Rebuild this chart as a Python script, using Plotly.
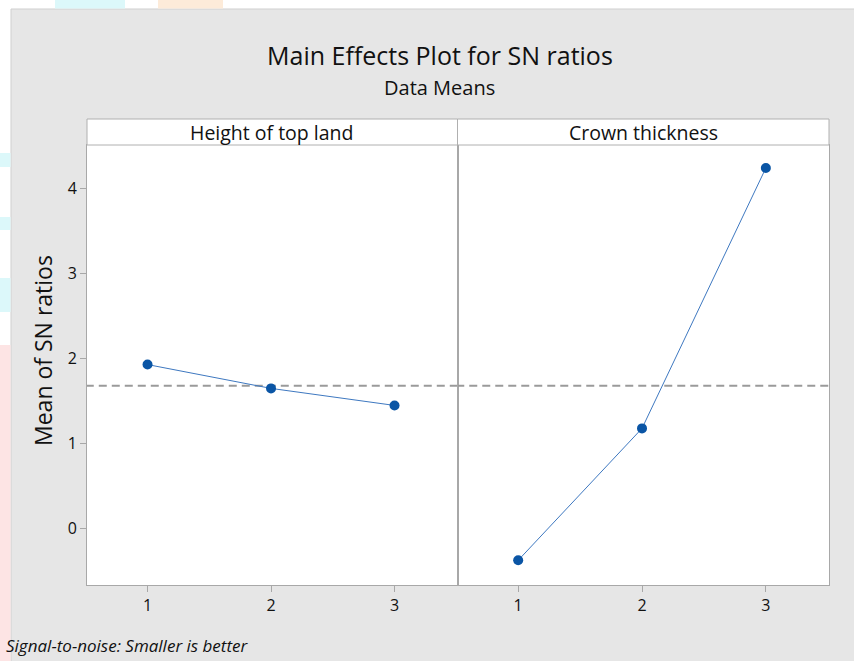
import plotly.graph_objects as go
from plotly.subplots import make_subplots

levels = [1, 2, 3]
height_top_land = [1.93, 1.65, 1.45]
crown_thickness = [-0.37, 1.18, 4.24]
overall_mean = 1.68
panel_titles = ["Height of top land", "Crown thickness"]
y_ticks = [0, 1, 2, 3, 4]

W, H = 854, 661
L, R, T, B = 87, 25, 145, 76
pw = W - L - R
ph = H - T - B
split = (457.5 - L) / pw


def px_x(x):
    return (x - L) / pw


def px_y(y):
    return (H - B - y) / ph


fig = make_subplots(rows=1, cols=2, shared_yaxes=True, horizontal_spacing=0)
fig.update_layout(xaxis=dict(domain=[0, split]), xaxis2=dict(domain=[split, 1]))

line_col = "#3E78C0"
mk_col = "#0A55A5"
for i, ys in enumerate([height_top_land, crown_thickness]):
    fig.add_trace(go.Scatter(x=[0.5, 3.52], y=[overall_mean, overall_mean], mode="lines",
                             line=dict(color="#9a9a9a", width=2, dash="8px,5px"),
                             showlegend=False, hoverinfo="skip"), row=1, col=i + 1)
    fig.add_trace(go.Scatter(x=levels, y=ys, mode="lines+markers",
                             line=dict(color=line_col, width=1),
                             marker=dict(color=mk_col, size=10),
                             showlegend=False, hoverinfo="skip"), row=1, col=i + 1)

axis_line = "#a8a8a8"
font_fam = "Open Sans, Noto Sans, sans-serif"
for k in [1, 2]:
    fig.update_xaxes(row=1, col=k, range=[0.51, 3.51], tickvals=levels,
                     ticktext=[str(v) for v in levels], showgrid=False, zeroline=False,
                     showline=True, linecolor=axis_line, linewidth=1, mirror=True,
                     ticks="outside", ticklen=6, tickcolor=axis_line,
                     tickfont=dict(family=font_fam, size=16, color="#111111"))
fig.update_yaxes(row=1, col=1, range=[-0.66, 4.51], tickvals=y_ticks, showgrid=False,
                 zeroline=False, showline=True, linecolor=axis_line, linewidth=1, mirror=True,
                 ticks="outside", ticklen=6, tickcolor=axis_line,
                 tickfont=dict(family=font_fam, size=16, color="#111111"))
fig.update_yaxes(row=1, col=2, range=[-0.66, 4.51], showgrid=False, zeroline=False,
                 showline=True, linecolor=axis_line, linewidth=1, mirror=True,
                 showticklabels=False, ticks="")

shapes = [
    # white page margins outside the grey chart frame
    dict(type="rect", xref="paper", yref="paper", x0=px_x(0), x1=px_x(11),
         y0=px_y(H), y1=px_y(0), fillcolor="white", line=dict(width=0)),
    dict(type="rect", xref="paper", yref="paper", x0=px_x(0), x1=px_x(W),
         y0=px_y(9), y1=px_y(0), fillcolor="white", line=dict(width=0)),
    dict(type="line", xref="paper", yref="paper", x0=px_x(11), x1=px_x(11),
         y0=px_y(H), y1=px_y(9), line=dict(color="#cfcfcf", width=1)),
    dict(type="line", xref="paper", yref="paper", x0=px_x(11), x1=px_x(W),
         y0=px_y(9), y1=px_y(9), line=dict(color="#cfcfcf", width=1)),
]
# faint watermark blocks on the page margins
for (y0, y1, c) in [(153, 167, "#dcf8fa"), (217, 230, "#dcf8fa"), (278, 312, "#dcf8fa"),
                    (345, 661, "#fde4e4")]:
    shapes.append(dict(type="rect", xref="paper", yref="paper", x0=px_x(0), x1=px_x(10.5),
                       y0=px_y(y1), y1=px_y(y0), fillcolor=c, line=dict(width=0)))
for (x0, x1, c) in [(55, 125, "#dcf8fa"), (158, 223, "#fdebd9")]:
    shapes.append(dict(type="rect", xref="paper", yref="paper", x0=px_x(x0), x1=px_x(x1),
                       y0=px_y(8.5), y1=px_y(0), fillcolor=c, line=dict(width=0)))

strip_h = 26 / ph
for x0, x1 in [(0, split), (split, 1)]:
    shapes.append(dict(type="rect", xref="paper", yref="paper", x0=x0, x1=x1,
                       y0=1, y1=1 + strip_h, fillcolor="white",
                       line=dict(color="#b0b0b0", width=1)))

annotations = []
for (x0, x1), t in zip([(0, split), (split, 1)], panel_titles):
    annotations.append(dict(text=t, xref="paper", yref="paper", x=(x0 + x1) / 2,
                            y=1 + strip_h / 2, showarrow=False, xanchor="center",
                            yanchor="middle",
                            font=dict(family=font_fam, size=19.5, color="#111111")))
annotations.append(dict(text="Main Effects Plot for SN ratios", xref="paper", yref="paper",
                        x=px_x(440), y=px_y(55), showarrow=False, xanchor="center",
                        yanchor="middle",
                        font=dict(family=font_fam, size=25, color="#111111")))
annotations.append(dict(text="Data Means", xref="paper", yref="paper",
                        x=px_x(439), y=px_y(88), showarrow=False, xanchor="center",
                        yanchor="middle",
                        font=dict(family=font_fam, size=20, color="#111111")))
annotations.append(dict(text="Mean of SN ratios", xref="paper", yref="paper",
                        x=px_x(43), y=px_y(351), showarrow=False, textangle=-90,
                        xanchor="center", yanchor="middle",
                        font=dict(family=font_fam, size=23, color="#111111")))
annotations.append(dict(text="<i>Signal-to-noise: Smaller is better</i>", xref="paper",
                        yref="paper", x=px_x(4), y=px_y(645), showarrow=False,
                        xanchor="left", yanchor="middle",
                        font=dict(family=font_fam, size=17, color="#111111")))

fig.update_layout(width=W, height=H, margin=dict(l=L, r=R, t=T, b=B),
                  paper_bgcolor="#e6e6e6", plot_bgcolor="white",
                  shapes=shapes, annotations=annotations)

fig.write_html("out.html", config={"displayModeBar": False},
               post_script="document.body.style.margin='0';")
